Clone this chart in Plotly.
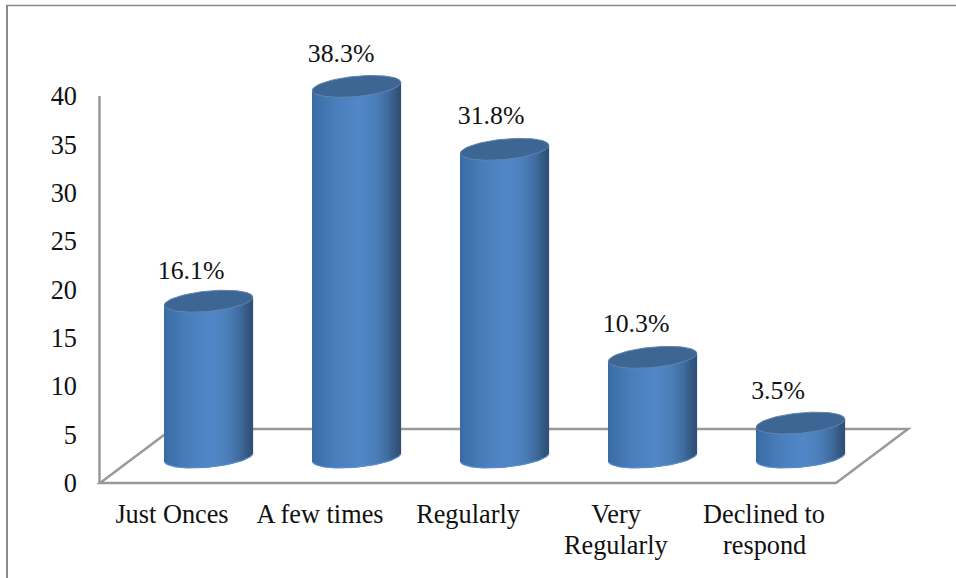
import numpy as np
import plotly.graph_objects as go

categories_line1 = ["Just Onces", "A few times", "Regularly", "Very", "Declined to"]
categories_line2 = ["", "", "", "Regularly", "respond"]
values = [16.1, 38.3, 31.8, 10.3, 3.5]
y_ticks = [0, 5, 10, 15, 20, 25, 30, 35, 40]

W, H = 956, 578
L, R, T, B = 90, 920, 50, 490
ZERO_X, ZERO_Y = 172, 483
PX_X = 148.0
PX_Y = 9.675
xmin = (L - ZERO_X) / PX_X
xmax = (R - ZERO_X) / PX_X
ymin = (ZERO_Y - B) / PX_Y
ymax = (ZERO_Y - T) / PX_Y
floor_left = (100 - ZERO_X) / PX_X
floor_right = (836 - ZERO_X) / PX_X

BASE = 2.69
SHIFT = 0.247
A = 44.3 / PX_X
BE = 10.2 / PX_Y
S = 4.0 / PX_Y
N = 88
FONT = "Liberation Serif"
FS = 26.3
GREY = "#999999"
FRAME = "#8a8a8a"
INK = "#111111"

stops = [(0, "#3a6ba4"), (0.1, "#4073ad"), (0.28, "#4a7fbb"), (0.55, "#5288c9"),
         (0.72, "#4b7fba"), (0.86, "#406c9f"), (0.95, "#355880"), (1, "#305077")]


def color_at(u):
    pos = [p for p, _ in stops]
    rgb = [[int(c[i:i + 2], 16) for _, c in stops] for i in (1, 3, 5)]
    return "rgb(%d,%d,%d)" % tuple(np.interp(u, pos, ch) for ch in rgb)


def px(x):
    return (x - L) / (R - L)


def py(y):
    return (B - y) / (B - T)


fig = go.Figure()
label_dx = [-17.5 / PX_X, -15.5 / PX_X, -13.5 / PX_X, -16.5 / PX_X, -22.5 / PX_X]
label_dy = [2.92, 3.16, 3.3, 3.24, 3.2]
for i, v in enumerate(values):
    cx = i + SHIFT
    u = (np.arange(N) + 0.5) / N
    t = 2 * u - 1
    xs = cx + A * t
    edge = BE * np.sqrt(1 - t ** 2)
    low = BASE + S * t - edge
    high = BASE + v + S * t
    fig.add_trace(go.Bar(
        x=xs, y=high - low, base=low, width=2 * A / N * 1.5,
        marker=dict(color=[color_at(p) for p in u], line=dict(width=0)),
        showlegend=False, hoverinfo="skip"))
    th = np.linspace(0, 2 * np.pi, 90)
    fig.add_trace(go.Scatter(
        x=cx + A * np.cos(th),
        y=BASE + v + S * np.cos(th) + BE * np.sin(th),
        mode="lines", fill="toself", fillcolor="#3e6694",
        line=dict(color="#5f86b0", width=1),
        showlegend=False, hoverinfo="skip"))
    arc = np.linspace(np.pi * 1.05, 1.95 * np.pi, 45)
    fig.add_trace(go.Scatter(
        x=cx + A * np.cos(arc),
        y=BASE + S * np.cos(arc) + BE * np.sin(arc),
        mode="lines", line=dict(color="#5a8dcb", width=1.2),
        showlegend=False, hoverinfo="skip"))

fig.add_trace(go.Scatter(
    x=[i + SHIFT + d for i, d in enumerate(label_dx)],
    y=[BASE + v + d for v, d in zip(values, label_dy)],
    mode="text", text=["%.1f%%" % v for v in values],
    textposition="middle center",
    textfont=dict(family=FONT, size=FS - 0.5, color=INK),
    showlegend=False, hoverinfo="skip", cliponaxis=False))

for i, line in enumerate(categories_line2):
    if line:
        fig.add_annotation(x=i, y=py(545), xref="x", yref="paper", text=line, showarrow=False,
                           yanchor="middle", xanchor="center",
                           font=dict(family=FONT, size=FS, color=INK))

dx3, dy3 = 72 / PX_X, 54 / PX_Y
fig.add_shape(type="path", xref="x", yref="y", layer="below",
              path=f"M {floor_left} 0 L {floor_right} 0 L {floor_right + dx3} {dy3} L {floor_left + dx3} {dy3} Z",
              line=dict(color=GREY, width=2.5))
fig.add_shape(type="line", xref="x", yref="y", layer="below",
              x0=floor_left - 0.5 / PX_X, x1=floor_left - 0.5 / PX_X, y0=0, y1=y_ticks[-1],
              line=dict(color=GREY, width=2.5))

fig.add_shape(type="line", xref="paper", yref="paper", x0=px(7), x1=px(7), y0=py(5), y1=py(578),
              line=dict(color=FRAME, width=2))
fig.add_shape(type="line", xref="paper", yref="paper", x0=px(6), x1=px(956), y0=py(5.5), y1=py(5.5),
              line=dict(color=FRAME, width=1.5))

fig.update_layout(
    width=W, height=H, margin=dict(l=L, r=W - R, t=T, b=H - B, pad=0),
    paper_bgcolor="white", plot_bgcolor="white", barmode="overlay",
    showlegend=False, font=dict(family=FONT, size=FS, color=INK),
    xaxis=dict(range=[xmin, xmax], tickmode="array", tickvals=list(range(5)), ticktext=categories_line1,
               showgrid=False, zeroline=False, showline=False, ticks="", ticklabelstandoff=6),
    yaxis=dict(range=[ymin, ymax], tickmode="array", tickvals=y_ticks,
               showgrid=False, zeroline=False, showline=False, ticks="", ticklabelstandoff=12),
)
fig.write_html("out.html", config={"displayModeBar": False},
               post_script="document.body.style.margin='0';")
